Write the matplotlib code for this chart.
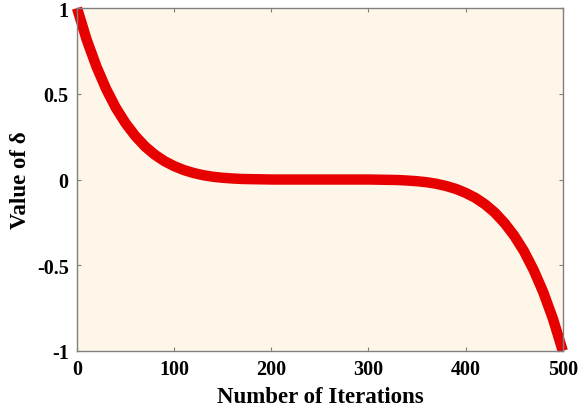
import matplotlib.pyplot as plt

# values (every 10 iterations)
iterations = list(range(0, 501, 10))
delta = [1.000, 0.815, 0.659, 0.528, 0.418, 0.328, 0.254, 0.193, 0.145, 0.107,
         0.078, 0.055, 0.038, 0.025, 0.016, 0.010, 0.006, 0.003, 0.002, 0.001,
         0.000, 0.000, 0.000, 0.000, 0.000, 0.000, 0.000, 0.000, 0.000, 0.000,
         0.000, -0.001, -0.002, -0.003, -0.006, -0.010, -0.016, -0.025, -0.038, -0.055,
         -0.078, -0.107, -0.145, -0.193, -0.254, -0.328, -0.418, -0.528, -0.659, -0.815,
         -1.000]

xticks = [0, 100, 200, 300, 400, 500]
yticks = [-1, -0.5, 0, 0.5, 1]
ytick_labels = ["-1", "-0.5", "0", "0.5", "1"]

plt.rcParams["font.family"] = ["Liberation Serif", "DejaVu Serif"]
plt.rcParams["font.weight"] = "bold"

fig = plt.figure(figsize=(5.79, 4.14), dpi=100)
ax = fig.add_axes([0.133, 0.150, 0.839, 0.828])
ax.set_facecolor("#fdf6e9")

ax.plot(iterations, delta, color="#e60000", linewidth=7.5,
        solid_capstyle="butt", solid_joinstyle="round", clip_on=False)

ax.set_xlim(0, 500)
ax.set_ylim(-1, 1)
ax.set_xticks(xticks)
ax.set_yticks(yticks)
ax.set_yticklabels(ytick_labels)
ax.tick_params(direction="in", length=3, width=0.8, color="#808080",
               top=True, right=True, labelsize=14.5, pad=6)
for lab in ax.get_xticklabels() + ax.get_yticklabels():
    lab.set_fontweight("bold")
for s in ax.spines.values():
    s.set_color("#808080")
    s.set_linewidth(1.0)

ax.set_xlabel("Number of Iterations", fontsize=16.5, fontweight="bold", labelpad=5)
ax.set_ylabel("Value of δ", fontsize=16.5, fontweight="bold", labelpad=4)

fig.savefig("out.png", dpi=100)
